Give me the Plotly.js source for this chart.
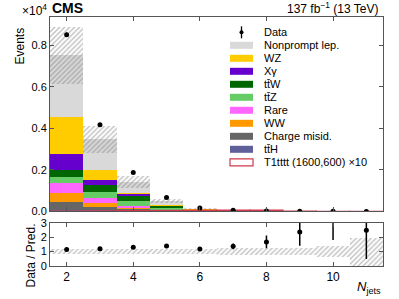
<!DOCTYPE html>
<html><head><meta charset="utf-8">
<script src="https://cdn.plot.ly/plotly-3.0.1.min.js"></script>
<style>html,body{margin:0;padding:0;background:#fff}#chart{width:399px;height:299px}</style>
</head><body><div id="chart"></div>
<script>
// ---- data (events in units of 10^4) ----
const nJets       = [2, 3, 4, 5, 6, 7, 8, 9, 10, 11];
const nonprompt   = [0.294, 0.148, 0.053, 0.018, 0.0045, 0.0015, 0.0005, 0.0002, 0.00006, 0.00003];
const wz          = [0.180, 0.049, 0.008, 0.003, 0.0007, 0.0002, 0.0001, 0.00003, 0.00001, 0];
const xgamma      = [0.077, 0.022, 0.008, 0.002, 0.0005, 0.0001, 0.00005, 0.00002, 0, 0];
const ttw         = [0.033, 0.033, 0.024, 0.009, 0.003, 0.001, 0.0003, 0.0001, 0.00004, 0.00002];
const ttz         = [0.029, 0.031, 0.024, 0.008, 0.0025, 0.0008, 0.0003, 0.0001, 0.00003, 0.00002];
const rare        = [0.048, 0.023, 0.011, 0.004, 0.0012, 0.0004, 0.00015, 0.00005, 0.00002, 0.00001];
const ww          = [0.042, 0.019, 0.005, 0.001, 0.0003, 0.0001, 0.00003, 0.00001, 0, 0];
const chargeMisid = [0.041, 0.016, 0.007, 0.002, 0.0005, 0.00015, 0.00005, 0.00002, 0, 0];
const tth         = [0.006, 0.006, 0.004, 0.001, 0.0008, 0.0003, 0.0001, 0.00004, 0.00002, 0.00001];
const signalX10   = [0.002, 0.003, 0.004, 0.005, 0.006, 0.006, 0.006, 0.002, 0.001, 0.0005];
const dataVals    = [0.850, 0.417, 0.187, 0.067, 0.0165, 0.006, 0.0025, 0.0012, 0.0006, 0.00025];
const dataErr     = [0.0092, 0.0065, 0.0043, 0.0026, 0.0013, 0.0008, 0.0005, 0.00035, 0.00025, 0.00016];
const relUnc      = [0.18, 0.19, 0.20, 0.20, 0.20, 0.22, 0.24, 0.26, 0.38, 0.97];
const ratio       = [1.14, 1.20, 1.30, 1.39, 1.18, 1.36, 1.67, 2.36, 3.6, 2.48];
const ratioErrUp  = [0.02, 0.03, 0.05, 0.08, 0.12, 0.20, 0.45, 1.0, 2.0, 2.0];
const ratioErrDn  = [0.02, 0.03, 0.05, 0.08, 0.12, 0.20, 0.44, 0.95, 1.8, 2.0];
const xTicks      = [2, 4, 6, 8, 10];
const yTicksTop   = [0, 0.2, 0.4, 0.6, 0.8];
const yTicksRatio = [0, 1, 2, 3];

// ---- geometry helpers (styling only) ----
const W = 399, H = 299, M = {l: 50, r: 16, t: 17, b: 33};
const PW = W - M.l - M.r, PH = H - M.t - M.b;
const px = x => (x - M.l) / PW;
const py = y => (H - M.b - y) / PH;
const FONT = 'Liberation Sans, Arial, Helvetica, sans-serif';

const comps = [
  {name: 'ttH', vals: tth, color: '#5f5f9a'},
  {name: 'Charge misid.', vals: chargeMisid, color: '#666666'},
  {name: 'WW', vals: ww, color: '#ff9900'},
  {name: 'Rare', vals: rare, color: '#ff66ff'},
  {name: 'ttZ', vals: ttz, color: '#66cc66'},
  {name: 'ttW', vals: ttw, color: '#006600'},
  {name: 'Xgamma', vals: xgamma, color: '#6600cc'},
  {name: 'WZ', vals: wz, color: '#ffcc00'},
  {name: 'Nonprompt lep.', vals: nonprompt, color: '#d9d9d9'}
];

const traces = [];
let base = nJets.map(() => 0);
comps.forEach(c => {
  traces.push({type: 'bar', x: nJets, y: c.vals, base: base.slice(), width: 1,
    marker: {color: c.color, line: {width: 0}}, xaxis: 'x', yaxis: 'y', showlegend: false, hoverinfo: 'skip'});
  base = base.map((b, i) => b + c.vals[i]);
});
const total = base;
const unc = total.map((t, i) => t * relUnc[i]);

const hatch = {shape: '/', fgcolor: '#707070', bgcolor: 'rgba(0,0,0,0)', size: 3.5, solidity: 0.35, fillmode: 'overlay'};

// uncertainty band top
traces.push({type: 'bar', x: nJets, y: unc.map(u => 2 * u), base: total.map((t, i) => t - unc[i]), width: 1,
  marker: {color: 'rgba(0,0,0,0)', line: {width: 0}, pattern: hatch}, xaxis: 'x', yaxis: 'y', showlegend: false, hoverinfo: 'skip'});
// signal outline
traces.push({type: 'bar', x: nJets, y: signalX10, base: nJets.map(() => 0), width: 1,
  marker: {color: 'rgba(0,0,0,0)', line: {width: 1.2, color: '#d03a4c'}}, xaxis: 'x', yaxis: 'y', showlegend: false, hoverinfo: 'skip'});
// data
traces.push({type: 'scatter', mode: 'markers', x: nJets, y: dataVals,
  error_y: {type: 'data', array: dataErr, color: '#000', thickness: 1.5, width: 0},
  marker: {color: '#000', size: 5}, xaxis: 'x', yaxis: 'y', showlegend: false, hoverinfo: 'skip'});

// ratio band
traces.push({type: 'bar', x: nJets, y: relUnc.map(r => 2 * r), base: relUnc.map(r => 1 - r), width: 1,
  marker: {color: 'rgba(0,0,0,0)', line: {width: 0}, pattern: hatch}, xaxis: 'x2', yaxis: 'y2', showlegend: false, hoverinfo: 'skip'});
// ratio points
traces.push({type: 'scatter', mode: 'markers', x: nJets, y: ratio,
  error_y: {type: 'data', symmetric: false, array: ratioErrUp, arrayminus: ratioErrDn, color: '#000', thickness: 1.5, width: 0},
  marker: {color: '#000', size: 5}, xaxis: 'x2', yaxis: 'y2', showlegend: false, hoverinfo: 'skip'});

// ---- manual legend ----
const legendItems = [
  {name: 'Data', kind: 'data'},
  {name: 'Nonprompt lep.', color: '#d9d9d9'},
  {name: 'WZ', color: '#ffcc00'},
  {name: 'X\u03b3', color: '#6600cc'},
  {name: 'tt\u0304W', color: '#006600'},
  {name: 'tt\u0304Z', color: '#66cc66'},
  {name: 'Rare', color: '#ff66ff'},
  {name: 'WW', color: '#ff9900'},
  {name: 'Charge misid.', color: '#666666'},
  {name: 'tt\u0304H', color: '#5f5f9a'},
  {name: 'T1tttt (1600,600) \u00d710', kind: 'signal'}
];
const shapes = [], annotations = [];
legendItems.forEach((it, i) => {
  const yc = 32.3 + 13 * i;
  if (it.kind === 'data') {
    shapes.push({type: 'line', xref: 'paper', yref: 'paper', x0: px(241.5), x1: px(241.5), y0: py(yc - 6), y1: py(yc + 6), line: {color: '#000', width: 1.3}});
    shapes.push({type: 'circle', xref: 'paper', yref: 'paper', x0: px(239.5), x1: px(243.5), y0: py(yc - 2), y1: py(yc + 2), fillcolor: '#000', line: {width: 0}});
  } else if (it.kind === 'signal') {
    shapes.push({type: 'rect', xref: 'paper', yref: 'paper', x0: px(230), x1: px(253), y0: py(yc - 3.5), y1: py(yc + 3.5), fillcolor: '#fff', line: {color: '#d03a4c', width: 1.2}});
  } else {
    shapes.push({type: 'rect', xref: 'paper', yref: 'paper', x0: px(230), x1: px(253), y0: py(yc - 3.5), y1: py(yc + 3.5), fillcolor: it.color, line: {width: 0}});
  }
  annotations.push({xref: 'paper', yref: 'paper', x: px(262), y: py(yc), xanchor: 'left', yanchor: 'middle', showarrow: false,
    text: it.name, font: {family: FONT, size: 11, color: '#000'}});
});

annotations.push({xref: 'paper', yref: 'paper', x: 0, y: 1, xanchor: 'left', yanchor: 'bottom', yshift: -1, showarrow: false,
  text: '<b>CMS</b>', font: {family: FONT, size: 14, color: '#000'}});
annotations.push({xref: 'paper', yref: 'paper', x: 0, y: 1, xanchor: 'right', yanchor: 'bottom', xshift: -1, yshift: -3, showarrow: false,
  text: '\u00d710<sup>4</sup>', font: {family: FONT, size: 12, color: '#000'}});
annotations.push({xref: 'paper', yref: 'paper', x: 1, y: 1, xanchor: 'right', yanchor: 'bottom', xshift: -3, yshift: -1, showarrow: false,
  text: '137 fb<sup>\u22121</sup> (13 TeV)', font: {family: FONT, size: 12, color: '#000'}});
annotations.push({xref: 'paper', yref: 'paper', x: px(19), y: py(26), xanchor: 'center', yanchor: 'top', textangle: -90, showarrow: false,
  text: 'Events', font: {family: FONT, size: 12, color: '#000'}});
annotations.push({xref: 'paper', yref: 'paper', x: px(30), y: py(255.5), xanchor: 'center', yanchor: 'middle', textangle: -90, showarrow: false,
  text: 'Data / Pred.', font: {family: FONT, size: 12, color: '#000'}});
annotations.push({xref: 'paper', yref: 'paper', x: px(383), y: py(287), xanchor: 'right', yanchor: 'middle', showarrow: false,
  text: '<i>N</i><sub>jets</sub>', font: {family: FONT, size: 13, color: '#000'}});

const axCommon = {showline: true, mirror: 'ticks', linecolor: '#555', linewidth: 1, ticks: 'inside', ticklen: 4, tickcolor: '#555',
  showgrid: false, zeroline: false, tickfont: {family: FONT, size: 12, color: '#000'}};
const yFont = {family: FONT, size: 11, color: '#000'};

const layout = {
  width: W, height: H, margin: M, paper_bgcolor: '#fff', plot_bgcolor: '#fff',
  barmode: 'overlay', bargap: 0, showlegend: false,
  xaxis: Object.assign({}, axCommon, {domain: [0, 1], range: [1.5, 11.5], anchor: 'y', tickvals: xTicks, showticklabels: false}),
  yaxis: Object.assign({}, axCommon, {domain: [0.219, 1], range: [0, 0.935], anchor: 'x', tickvals: yTicksTop, tickformat: '.1f', tickfont: yFont}),
  xaxis2: Object.assign({}, axCommon, {domain: [0, 1], range: [1.5, 11.5], anchor: 'y2', tickvals: xTicks}),
  yaxis2: Object.assign({}, axCommon, {domain: [0, 0.174], range: [0, 3], anchor: 'x2', tickvals: yTicksRatio, tickfont: yFont}),
  shapes: shapes, annotations: annotations
};

Plotly.newPlot('chart', traces, layout, {staticPlot: true, displayModeBar: false});
</script></body></html>
